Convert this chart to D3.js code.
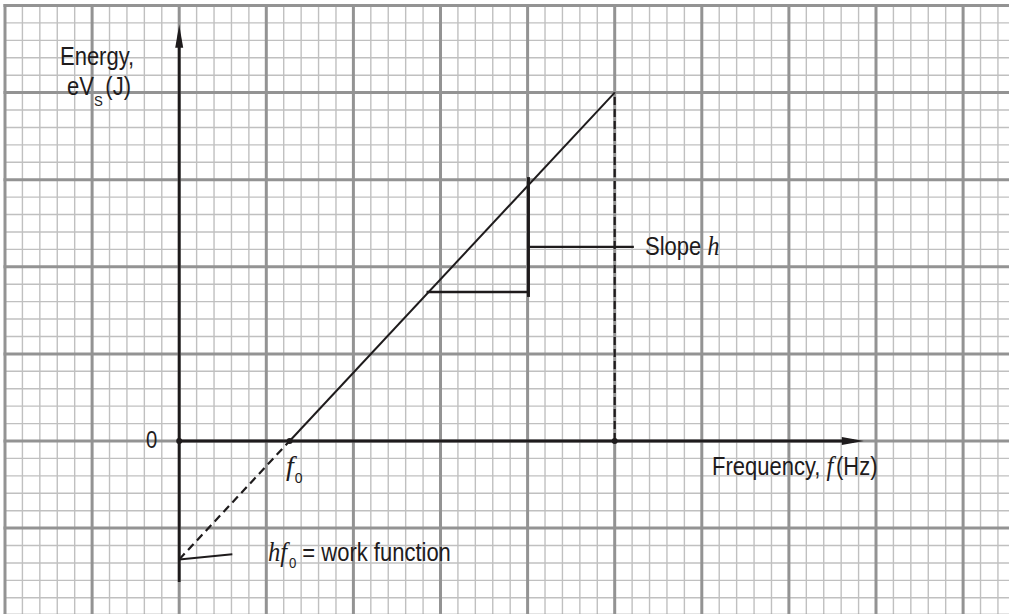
<!DOCTYPE html>
<html>
<head>
<meta charset="utf-8">
<script src="https://cdn.jsdelivr.net/npm/d3@7"></script>
<style>
  html, body { margin: 0; padding: 0; background: #fff; }
  svg { display: block; }
  .sans { font-family: "Liberation Sans", Arial, Helvetica, sans-serif; }
  .serif { font-family: "Liberation Serif", "Times New Roman", serif; font-style: italic; }
</style>
</head>
<body>
<svg id="chart" width="1009" height="614"></svg>
<script>
// Graph-paper units: one minor square = 1 unit, five minor squares per major square.
const gridX = d3.range(-10, 48);          // vertical grid lines
const gridY = d3.range(-10, 26);          // horizontal grid lines

// Photoelectric line: energy eVs against frequency f
const f0 = 6.34;                           // threshold frequency (x-intercept)
const workFunction = -6.8;                 // y-intercept = -hf0
const dashedPart = [[0, workFunction], [f0, 0]];
const solidPart  = [[f0, 0], [25, 20]];
const dropLine   = [[25, 0], [25, 20]];

// Slope construction
const riseRun    = [[14.2, 8.55], [20.05, 8.55]];
const riseLine   = [[20.05, 15.15], [20.05, 8.27]];
const slopeLead  = [[20.05, 11.14], [26.1, 11.14]];
const workLead   = [[0, workFunction], [3.05, -6.5]];

// Axes (data units)
const yAxisSpan  = [-8.1, 23.9];
const xAxisSpan  = [0, 39.3];
const markedPts  = [[0, 0], [f0, 0], [25, 0]];

const unit = 17.42;
const x = d3.scaleLinear().domain([-10, 48]).range([5, 5 + 58 * unit]);
const y = d3.scaleLinear().domain([-10, 25]).range([441 + 10 * unit, 441 - 25 * unit]);

const svg = d3.select("#chart");
const ink = "#1e1b1c";

// ---- grid ----
const grid = svg.append("g");
const isMajor = v => ((v % 5) + 5) % 5 === 0;
grid.selectAll("line.vmin").data(gridX.filter(v => !isMajor(v))).join("line")
  .attr("x1", d => x(d)).attr("x2", d => x(d))
  .attr("y1", y(25)).attr("y2", 614)
  .attr("stroke", "#c0c0c0").attr("stroke-width", 1.4);
grid.selectAll("line.hmin").data(gridY.filter(v => !isMajor(v))).join("line")
  .attr("y1", d => y(d)).attr("y2", d => y(d))
  .attr("x1", x(-10)).attr("x2", 1009)
  .attr("stroke", "#c0c0c0").attr("stroke-width", 1.4);
grid.selectAll("line.vmaj").data(gridX.filter(isMajor)).join("line")
  .attr("x1", d => x(d)).attr("x2", d => x(d))
  .attr("y1", y(25) - 1.5).attr("y2", 614)
  .attr("stroke", "#939393").attr("stroke-width", 3);
grid.selectAll("line.hmaj").data(gridY.filter(isMajor)).join("line")
  .attr("y1", d => y(d)).attr("y2", d => y(d))
  .attr("x1", x(-10) - 1.5).attr("x2", 1009)
  .attr("stroke", "#939393").attr("stroke-width", 3);

const line = d3.line().x(d => x(d[0])).y(d => y(d[1]));

// ---- axes ----
svg.append("line")
  .attr("x1", x(0)).attr("x2", x(0))
  .attr("y1", y(yAxisSpan[0])).attr("y2", y(yAxisSpan[1]) + 10)
  .attr("stroke", ink).attr("stroke-width", 2.8);
svg.append("path")
  .attr("d", `M${x(0)},${y(yAxisSpan[1])} L${x(0) - 4},${y(yAxisSpan[1]) + 23} L${x(0) + 4},${y(yAxisSpan[1]) + 23} Z`)
  .attr("fill", ink);
svg.append("line")
  .attr("x1", x(xAxisSpan[0])).attr("x2", x(xAxisSpan[1]) - 10)
  .attr("y1", y(0)).attr("y2", y(0))
  .attr("stroke", ink).attr("stroke-width", 2.8);
svg.append("path")
  .attr("d", `M${x(xAxisSpan[1])},${y(0)} L${x(xAxisSpan[1]) - 22},${y(0) - 4} L${x(xAxisSpan[1]) - 22},${y(0) + 4} Z`)
  .attr("fill", ink);

// ---- graph line ----
svg.append("path").attr("d", line(dashedPart))
  .attr("fill", "none").attr("stroke", ink).attr("stroke-width", 2.2)
  .attr("stroke-dasharray", "8,5");
svg.append("path").attr("d", line(solidPart))
  .attr("fill", "none").attr("stroke", ink).attr("stroke-width", 2);
svg.append("path").attr("d", line(dropLine))
  .attr("fill", "none").attr("stroke", ink).attr("stroke-width", 2.2)
  .attr("stroke-dasharray", "8,4");

// slope triangle and leaders
svg.append("path").attr("d", line(riseRun))
  .attr("fill", "none").attr("stroke", ink).attr("stroke-width", 2.4);
svg.append("path").attr("d", line(riseLine))
  .attr("fill", "none").attr("stroke", ink).attr("stroke-width", 3);
svg.append("path").attr("d", line(slopeLead))
  .attr("fill", "none").attr("stroke", ink).attr("stroke-width", 2.2);
svg.append("path").attr("d", line(workLead))
  .attr("fill", "none").attr("stroke", ink).attr("stroke-width", 2);

svg.selectAll("circle.pt").data(markedPts).join("circle")
  .attr("cx", d => x(d[0])).attr("cy", d => y(d[1])).attr("r", 3)
  .attr("fill", ink);

// ---- text ----
function label(px, py, sx, size) {
  return svg.append("text")
    .attr("class", "sans")
    .attr("transform", `translate(${px},${py}) scale(${sx},1)`)
    .attr("font-size", size || 25).attr("fill", ink);
}

// y-axis title
label(60, 65, 0.88).text("Energy,");
const ev = label(67, 95, 0.88);
ev.append("tspan").text("eV");
ev.append("tspan").attr("font-size", 15).attr("dy", 11).text("S");
ev.append("tspan").attr("dy", -11).attr("dx", 3).text("(J)");

// origin
label(146, 448, 0.88, 23).text("0");

// threshold frequency
const f0Label = label(286, 475, 1);
f0Label.append("tspan").attr("class", "serif").attr("font-size", 28).text("f");
f0Label.append("tspan").attr("font-size", 14).attr("dy", 8).attr("dx", 1).text("0");

// x-axis title
const fx = label(712, 475, 0.88);
fx.append("tspan").text("Frequency, ");
fx.append("tspan").attr("class", "serif").attr("font-size", 28).text("f");
fx.append("tspan").attr("dx", 3).text("(Hz)");

// slope label
const sl = label(645, 255, 0.88);
sl.append("tspan").text("Slope ");
sl.append("tspan").attr("class", "serif").attr("font-size", 28).text("h");

// work function label
const wf = label(268, 561, 0.88);
wf.append("tspan").attr("class", "serif").attr("font-size", 28).text("hf");
wf.append("tspan").attr("font-size", 15).attr("dy", 7).attr("dx", 2).text("0");
wf.append("tspan").attr("dy", -7).text(" = work function");
</script>
</body>
</html>
